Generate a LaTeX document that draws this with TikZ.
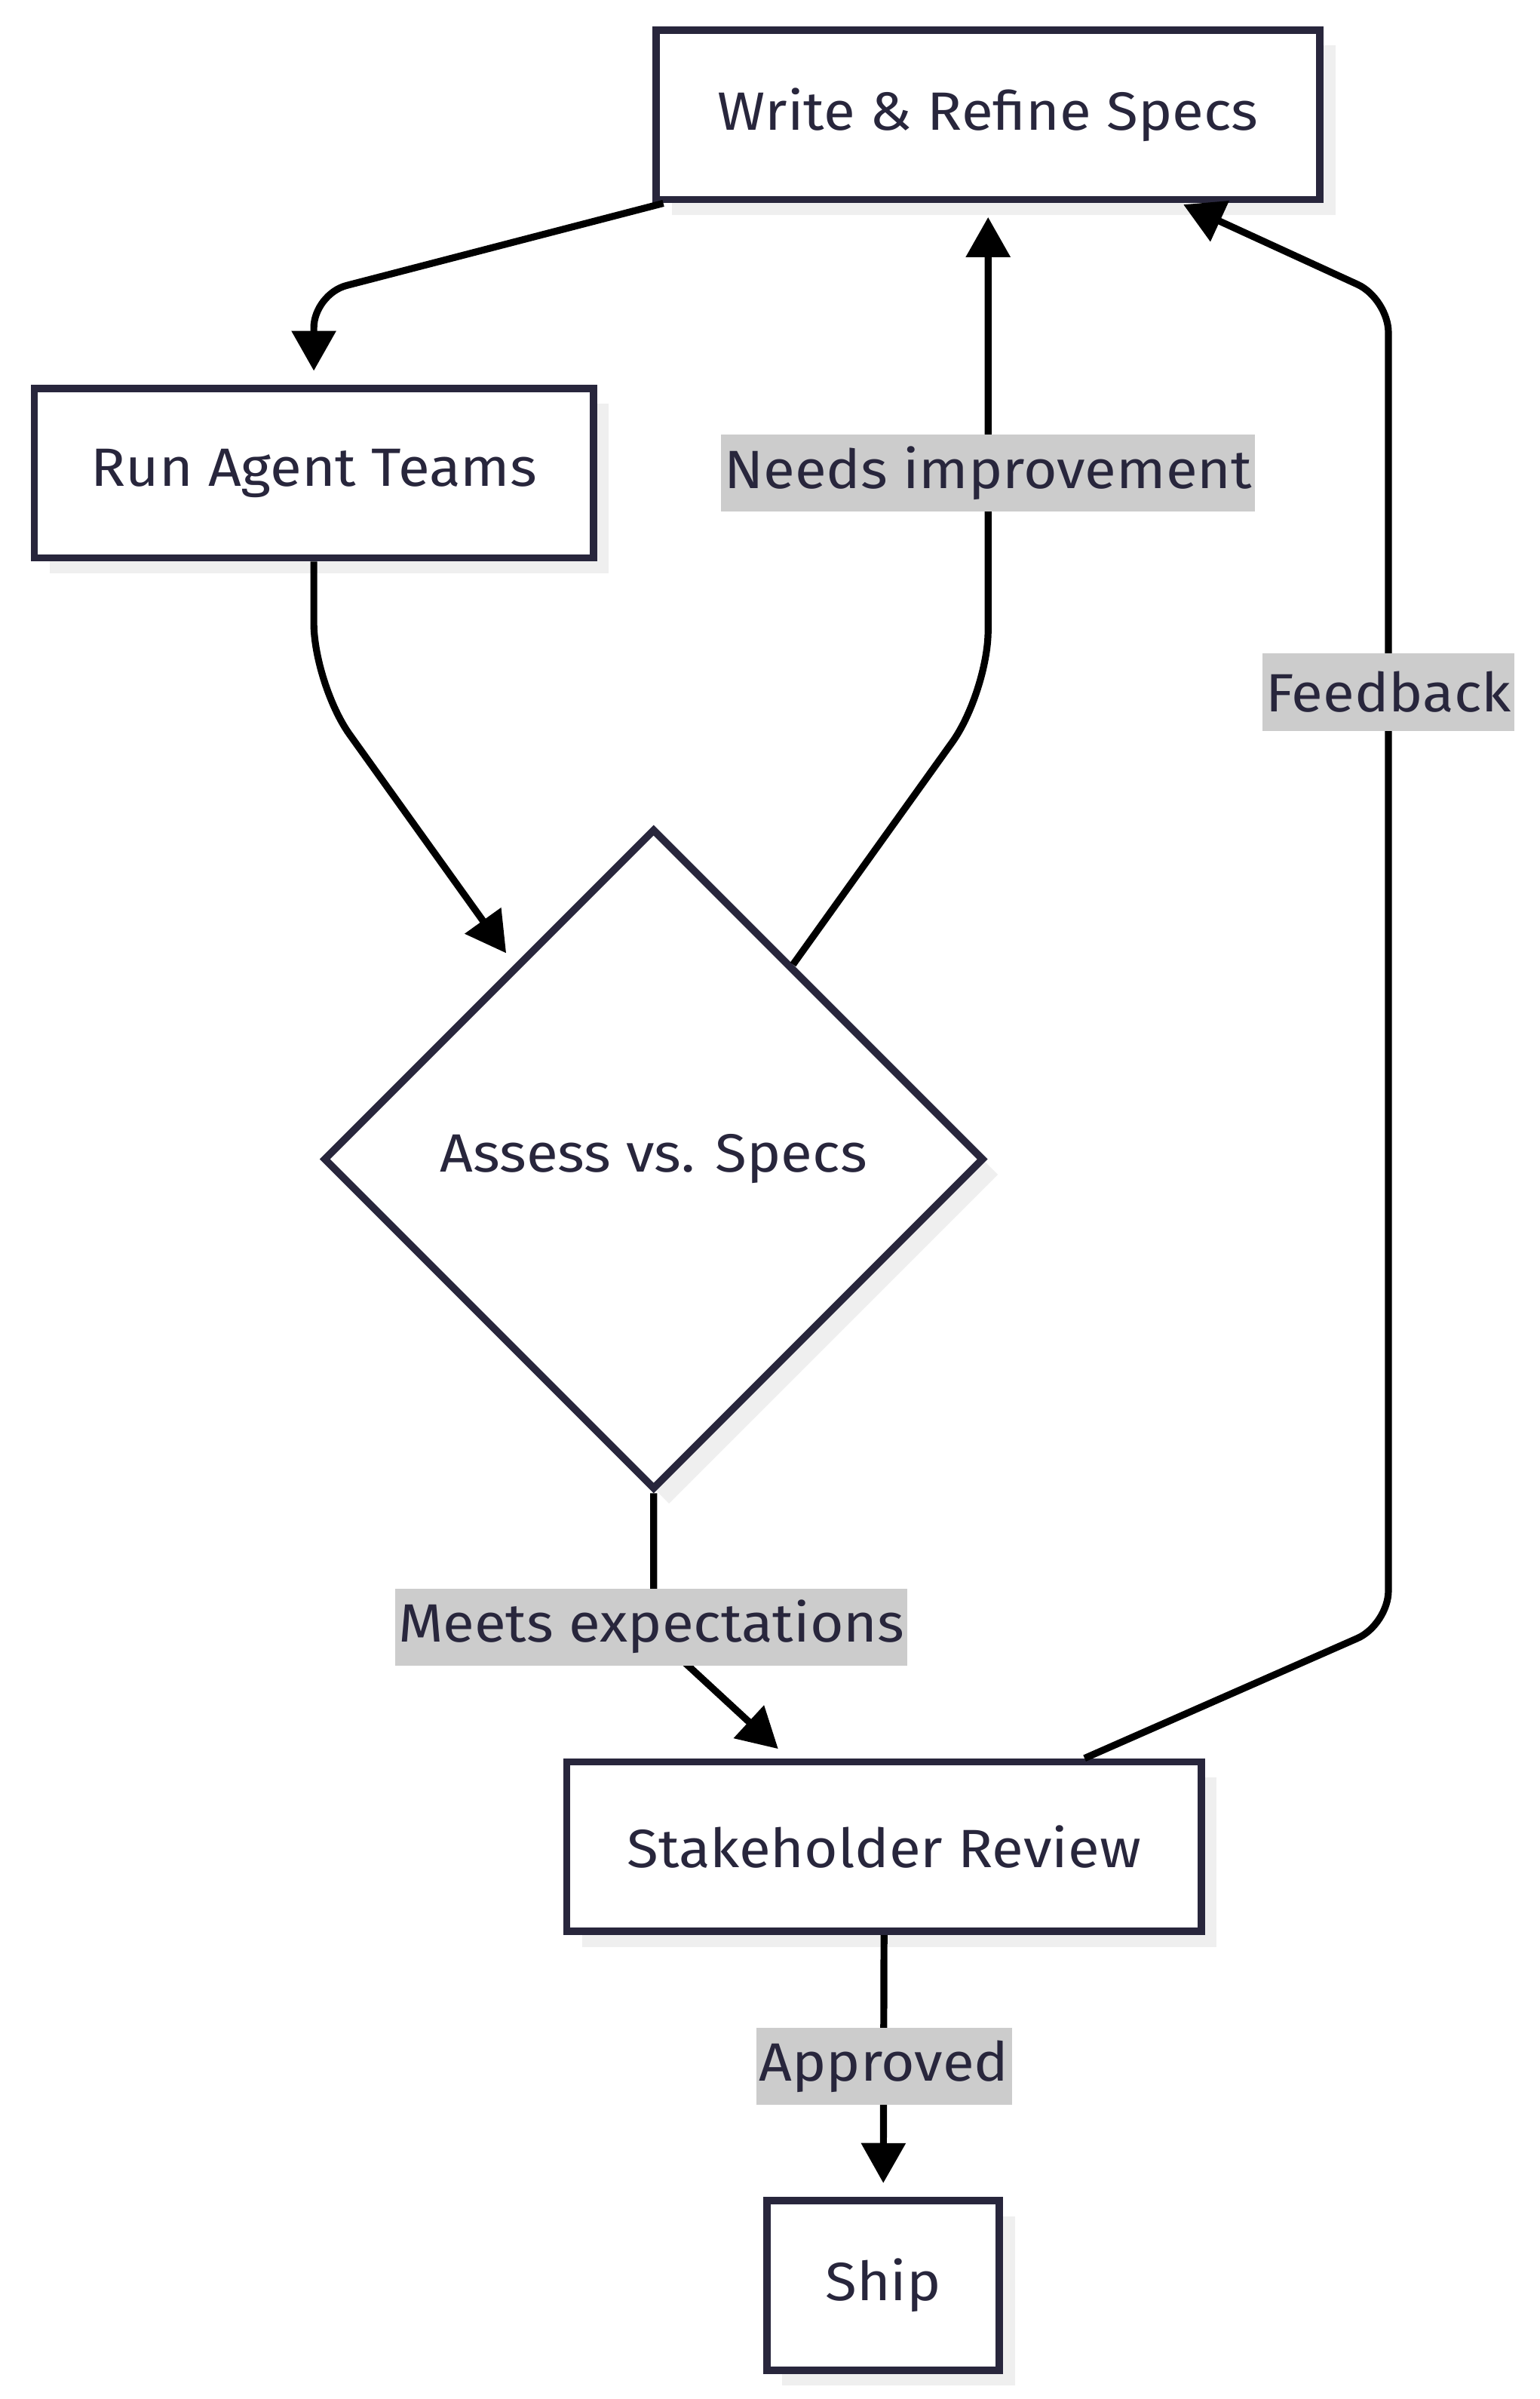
\documentclass[tikz,border=0pt]{standalone}
\usepackage{fontspec}
\setmainfont{Fira Sans}[FakeStretch=1.07]
\usetikzlibrary{arrows.meta,shapes.geometric,shadows}
\definecolor{ink}{RGB}{40,38,60}
\definecolor{shad}{RGB}{239,239,239}
\definecolor{lblbg}{RGB}{204,204,204}
\begin{document}
\begin{tikzpicture}[x=0.994pt,y=-0.994pt,
  txt/.style={text=ink,font=\fontsize{35}{42}\selectfont},
  box/.style={txt,draw=ink,line width=4.8pt,fill=white,minimum height=110pt,
    drop shadow={shadow xshift=10pt,shadow yshift=-10pt,fill=shad,opacity=1}},
  decision/.style={txt,diamond,aspect=1,draw=ink,line width=4.8pt,fill=white,
    minimum width=429pt,minimum height=429pt,inner sep=0pt,
    drop shadow={shadow xshift=10pt,shadow yshift=-10pt,fill=shad,opacity=1}},
  edge/.style={draw=black,line width=4.5pt,-{Triangle[length=26pt,width=28pt]},
    rounded corners=22pt,shorten >=9pt},
  lbl/.style={txt,fill=lblbg,inner xsep=2pt,inner ysep=0pt,minimum height=50pt}]
\useasboundingbox (0,0) rectangle (1006.04,1566.7);

\node[box,minimum width=431pt] (w) at (645.5,75) {Write \& Refine Specs};
\node[box,minimum width=363pt] (r) at (205,309) {Run Agent Teams};
\node[decision] (d) at (427,757) {Assess vs. Specs};
\node[box,minimum width=412pt] (s) at (577.5,1206) {Stakeholder Review};
\node[box,minimum width=151pt] (ship) at (577,1492.5) {Ship};

\draw[edge] ([xshift=7pt]w.south west) -- (205,192) -- (r.north);
\draw[edge,rounded corners=40pt] (r.south) -- (205,447) -- (d);
\draw[edge,rounded corners=40pt] (d) -- (645.5,452) -- (w.south);
\draw[edge] (d.south) -- (427,1067) -- (s);
\draw[edge,shorten >=2pt] (s) -- (907,1061) -- (907,195) -- (w);
\draw[edge] (s.south) -- (ship.north);

\node[lbl] (l1) at (645.5,309) {Needs improvement};
\node[lbl] (l2) at (907,452) {Feedback};
\node[lbl] (l3) at (425.5,1062.5) {Meets expectations};
\node[lbl] (l4) at (577.5,1349.5) {Approved};
\end{tikzpicture}
\end{document}
